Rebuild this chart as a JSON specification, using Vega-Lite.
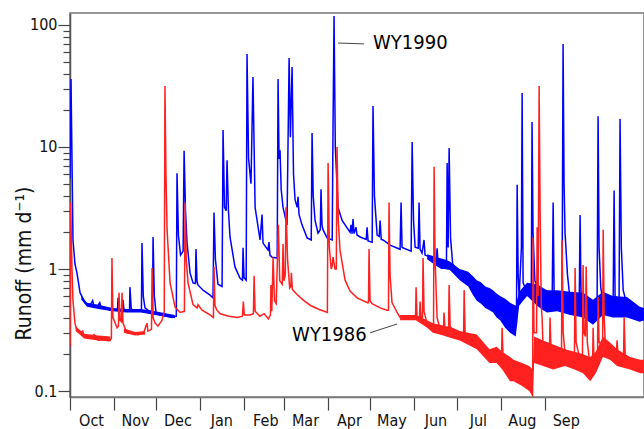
{
"$schema": "https://vega.github.io/schema/vega-lite/v6.json",
"width": 574, "height": 384,
"autosize": {"type": "none"},
"padding": {"left": 70, "top": 13, "right": 0, "bottom": 32},
"background": "white",
"config": {"view": {"stroke": "#777", "strokeWidth": 1.5}, "font": "DejaVu Sans Condensed, DejaVu Sans, sans-serif"},
"datasets": {
"wy1990": [
{"day":0,"q":5.5},{"day":0.7,"q":36},{"day":1.4,"q":8},{"day":2.1,"q":1.73},{"day":3.5,"q":1.1},{"day":4.9,"q":0.93},{"day":7.1,"q":0.64},{"day":10.6,"q":0.53},{"day":14.1,"q":0.5},{"day":16,"q":0.55},{"day":17,"q":0.49},{"day":19.1,"q":0.49},{"day":21,"q":0.53},{"day":22,"q":0.48},{"day":26.1,"q":0.48},{"day":28.2,"q":0.46},{"day":31,"q":0.46},{"day":33.5,"q":0.46},{"day":33.9,"q":0.58},{"day":34.6,"q":0.46},{"day":37,"q":0.45},{"day":37.4,"q":0.56},{"day":38.2,"q":0.45},{"day":42,"q":0.46},{"day":42.3,"q":0.71},{"day":43.2,"q":0.47},{"day":46,"q":0.45},{"day":49.4,"q":0.45},{"day":50.4,"q":0.46},{"day":50.8,"q":1.63},{"day":51.7,"q":0.6},{"day":52.9,"q":0.48},{"day":56,"q":0.45},{"day":58.2,"q":0.45},{"day":58.6,"q":1.83},{"day":59.5,"q":0.6},{"day":60.7,"q":0.44},{"day":63.5,"q":0.42},{"day":68,"q":0.41},{"day":72,"q":0.4},{"day":75,"q":0.41},{"day":75.5,"q":6.1},{"day":76.5,"q":1.9},{"day":78,"q":1.3},{"day":79.8,"q":1.4},{"day":80.5,"q":9.3},{"day":81.5,"q":3.0},{"day":82.6,"q":1.63},{"day":84.7,"q":0.93},{"day":86.8,"q":0.77},{"day":88.5,"q":0.76},{"day":88.9,"q":1.46},{"day":89.6,"q":0.8},{"day":90.3,"q":0.74},{"day":93.9,"q":0.67},{"day":98.8,"q":0.61},{"day":100.9,"q":0.58},{"day":101.6,"q":2.9},{"day":102.6,"q":1.2},{"day":103.7,"q":0.9},{"day":104.4,"q":0.75},{"day":107.3,"q":0.72},{"day":108,"q":13.8},{"day":109,"q":3.2},{"day":110.2,"q":3.0},{"day":110.8,"q":7.8},{"day":111.8,"q":3.0},{"day":112.9,"q":1.83},{"day":116.4,"q":1.04},{"day":120,"q":0.84},{"day":121.7,"q":0.81},{"day":122.1,"q":1.49},{"day":122.8,"q":0.85},{"day":124.3,"q":0.81},{"day":124.9,"q":57.8},{"day":126,"q":8},{"day":127.7,"q":5},{"day":129.1,"q":37.5},{"day":130.6,"q":3.2},{"day":134.1,"q":1.73},{"day":135.5,"q":2.8},{"day":136.2,"q":1.63},{"day":139.7,"q":1.43},{"day":140.4,"q":1.66},{"day":141.1,"q":1.3},{"day":142.6,"q":1.25},{"day":146.2,"q":1.23},{"day":146.8,"q":36.1},{"day":147.5,"q":8},{"day":148.2,"q":9.4},{"day":149,"q":4.5},{"day":150.3,"q":3.2},{"day":153.1,"q":2.3},{"day":154.6,"q":53.7},{"day":155.5,"q":12},{"day":156.7,"q":45.3},{"day":157.7,"q":6},{"day":158.8,"q":3.7},{"day":160.3,"q":3.2},{"day":160.9,"q":3.9},{"day":161.6,"q":2.8},{"day":163.7,"q":2.3},{"day":167.3,"q":1.8},{"day":170.2,"q":1.73},{"day":170.8,"q":13.0},{"day":171.6,"q":4},{"day":172.9,"q":2.5},{"day":175,"q":1.97},{"day":176.6,"q":2.1},{"day":177.1,"q":4.5},{"day":177.8,"q":2.3},{"day":178.5,"q":2.1},{"day":181.4,"q":1.8},{"day":185,"q":1.73},{"day":185.6,"q":15},{"day":186.3,"q":118.5},{"day":187.2,"q":10},{"day":189.1,"q":3.2},{"day":192,"q":2.5},{"day":195.5,"q":2.17},{"day":197.6,"q":2.0},{"day":198.3,"q":2.3},{"day":199,"q":1.95},{"day":199.7,"q":2.57},{"day":200.4,"q":1.95},{"day":201.8,"q":2.2},{"day":202.5,"q":1.9},{"day":204.7,"q":1.83},{"day":209,"q":1.75},{"day":209.6,"q":2.2},{"day":210.3,"q":1.7},{"day":213.2,"q":1.66},{"day":213.8,"q":21.7},{"day":214.8,"q":4},{"day":216.7,"q":1.9},{"day":218.2,"q":1.85},{"day":218.8,"q":2.5},{"day":219.6,"q":1.75},{"day":220.9,"q":1.73},{"day":225.8,"q":1.57},{"day":232.9,"q":1.45},{"day":233.6,"q":3.5},{"day":234.3,"q":1.5},{"day":240.7,"q":1.4},{"day":241.4,"q":11.0},{"day":242.4,"q":2.5},{"day":243.5,"q":1.51},{"day":245.7,"q":1.48},{"day":246.3,"q":3.5},{"day":247,"q":1.45},{"day":248.4,"q":1.35},{"day":249.8,"q":1.73},{"day":250.5,"q":1.3},{"day":254.1,"q":1.25},{"day":258.5,"q":1.15},{"day":259,"q":1.48},{"day":259.7,"q":1.12},{"day":264,"q":1.08},{"day":265.6,"q":1.05},{"day":266.1,"q":7.4},{"day":266.8,"q":1.5},{"day":267.5,"q":9.8},{"day":268.5,"q":1.8},{"day":270,"q":1.1},{"day":275,"q":0.9},{"day":281,"q":0.82},{"day":287,"q":0.68},{"day":293,"q":0.6},{"day":298.5,"q":0.55},{"day":303.5,"q":0.48},{"day":310.5,"q":0.4},{"day":315,"q":0.36},{"day":315.5,"q":4.9},{"day":316.2,"q":0.9},{"day":316.9,"q":0.59},{"day":318.5,"q":1.5},{"day":319,"q":27.7},{"day":319.7,"q":0.77},{"day":322.5,"q":0.64},{"day":325.5,"q":0.7},{"day":326,"q":16},{"day":326.7,"q":2.0},{"day":328,"q":0.8},{"day":333.8,"q":0.58},{"day":340.2,"q":0.55},{"day":340.9,"q":3.5},{"day":341.6,"q":0.6},{"day":347.2,"q":0.6},{"day":347.9,"q":69.9},{"day":348.6,"q":5},{"day":349.3,"q":1.97},{"day":351,"q":0.9},{"day":352.9,"q":0.55},{"day":359.3,"q":0.52},{"day":359.9,"q":2.77},{"day":360.6,"q":0.6},{"day":362,"q":0.5},{"day":369,"q":0.45},{"day":371.9,"q":0.5},{"day":372.6,"q":17.9},{"day":373.3,"q":1.5},{"day":374.5,"q":0.7},{"day":376.2,"q":0.54},{"day":383.2,"q":0.5},{"day":383.9,"q":4.4},{"day":384.6,"q":0.6},{"day":387.4,"q":0.55},{"day":388.1,"q":17},{"day":389,"q":1.5},{"day":390.3,"q":0.67},{"day":393.1,"q":0.5},{"day":402.3,"q":0.43},{"day":405,"q":0.43}
],
"wy1986": [
{"day":0,"q":0.23},{"day":0.4,"q":3.5},{"day":1.4,"q":1.0},{"day":2.1,"q":0.55},{"day":3.5,"q":0.36},{"day":5,"q":0.31},{"day":7.1,"q":0.3},{"day":9,"q":0.31},{"day":10,"q":0.28},{"day":14,"q":0.27},{"day":17,"q":0.29},{"day":20,"q":0.26},{"day":24,"q":0.27},{"day":28.2,"q":0.26},{"day":29.2,"q":0.27},{"day":29.6,"q":1.23},{"day":30.3,"q":0.4},{"day":33.2,"q":0.33},{"day":34.2,"q":0.34},{"day":34.6,"q":0.64},{"day":35.3,"q":0.38},{"day":36.3,"q":0.37},{"day":36.7,"q":0.64},{"day":37.4,"q":0.36},{"day":40.2,"q":0.3},{"day":44,"q":0.3},{"day":48,"q":0.29},{"day":52,"q":0.3},{"day":54.3,"q":0.36},{"day":55,"q":0.31},{"day":57.5,"q":0.32},{"day":57.9,"q":1.02},{"day":58.6,"q":0.4},{"day":60,"q":0.36},{"day":62.1,"q":0.34},{"day":64.9,"q":0.38},{"day":66.5,"q":0.45},{"day":67,"q":31.6},{"day":67.7,"q":6},{"day":68.5,"q":2.1},{"day":70.6,"q":0.77},{"day":74.1,"q":0.49},{"day":77.6,"q":0.44},{"day":80.7,"q":0.45},{"day":81.2,"q":3.5},{"day":82,"q":1.2},{"day":83.3,"q":0.77},{"day":86.8,"q":0.51},{"day":89.6,"q":0.48},{"day":90.3,"q":0.51},{"day":93.2,"q":0.46},{"day":98.8,"q":0.42},{"day":101.2,"q":0.4},{"day":101.6,"q":1.04},{"day":102.3,"q":0.5},{"day":103.7,"q":0.46},{"day":106,"q":0.43},{"day":112,"q":0.41},{"day":118,"q":0.4},{"day":121.7,"q":0.41},{"day":122.3,"q":0.54},{"day":123,"q":0.42},{"day":127,"q":0.42},{"day":129.4,"q":0.43},{"day":129.9,"q":0.88},{"day":130.6,"q":0.45},{"day":134,"q":0.41},{"day":137,"q":0.43},{"day":140,"q":0.39},{"day":141.4,"q":0.42},{"day":141.8,"q":0.74},{"day":142.4,"q":0.45},{"day":143.3,"q":1.25},{"day":144.3,"q":0.55},{"day":145.5,"q":0.52},{"day":147,"q":2.3},{"day":148,"q":0.8},{"day":149.8,"q":0.75},{"day":150.3,"q":1.6},{"day":151,"q":0.8},{"day":151.9,"q":0.9},{"day":152.4,"q":3.2},{"day":153.5,"q":1.2},{"day":155,"q":0.7},{"day":155.8,"q":0.72},{"day":156.2,"q":0.93},{"day":156.9,"q":0.68},{"day":160,"q":0.62},{"day":165,"q":0.55},{"day":170,"q":0.5},{"day":175,"q":0.47},{"day":181.6,"q":0.44},{"day":182.1,"q":7.4},{"day":183,"q":1.5},{"day":184.3,"q":1.0},{"day":184.9,"q":1.04},{"day":185.6,"q":1.25},{"day":187,"q":1.0},{"day":187.9,"q":1.0},{"day":188.4,"q":10},{"day":189.3,"q":2.5},{"day":190.5,"q":1.43},{"day":194.1,"q":0.81},{"day":197.6,"q":0.66},{"day":202.5,"q":0.58},{"day":210,"q":0.53},{"day":210.6,"q":0.53},{"day":211,"q":1.46},{"day":211.7,"q":0.55},{"day":213.1,"q":0.52},{"day":218.8,"q":0.48},{"day":223.7,"q":0.46},{"day":224.7,"q":0.46},{"day":225.1,"q":3.5},{"day":225.8,"q":0.9},{"day":227.2,"q":0.53},{"day":230.8,"q":0.44},{"day":232.9,"q":0.4},{"day":243.8,"q":0.4},{"day":244.2,"q":0.71},{"day":244.8,"q":0.41},{"day":246.6,"q":0.4},{"day":247,"q":0.54},{"day":247.6,"q":0.4},{"day":248.7,"q":0.4},{"day":249.1,"q":1.23},{"day":249.8,"q":0.45},{"day":251.9,"q":0.36},{"day":254.1,"q":0.33},{"day":256.5,"q":0.33},{"day":256.9,"q":6.9},{"day":257.6,"q":1.2},{"day":259,"q":0.4},{"day":261.1,"q":0.32},{"day":263.5,"q":0.32},{"day":263.9,"q":0.44},{"day":264.6,"q":0.32},{"day":267.1,"q":0.32},{"day":267.5,"q":0.74},{"day":268.2,"q":0.34},{"day":270.3,"q":0.3},{"day":273,"q":0.29},{"day":277.7,"q":0.28},{"day":278.1,"q":0.67},{"day":278.8,"q":0.29},{"day":285,"q":0.25},{"day":291.5,"q":0.22},{"day":296.4,"q":0.2},{"day":304.5,"q":0.19},{"day":304.9,"q":0.33},{"day":305.6,"q":0.18},{"day":310.5,"q":0.15},{"day":316,"q":0.14},{"day":322.5,"q":0.13},{"day":326,"q":0.12},{"day":326.4,"q":0.09},{"day":326.7,"q":1.8},{"day":327.4,"q":0.3},{"day":329.2,"q":0.3},{"day":329.6,"q":2.2},{"day":330.3,"q":0.6},{"day":331,"q":31.6},{"day":331.7,"q":3},{"day":332.5,"q":0.5},{"day":333.1,"q":0.4},{"day":333.8,"q":0.22},{"day":338.3,"q":0.21},{"day":338.7,"q":0.4},{"day":339.4,"q":0.22},{"day":343,"q":0.2},{"day":346.8,"q":0.2},{"day":347.2,"q":1.73},{"day":348,"q":0.3},{"day":349.3,"q":0.2},{"day":355.9,"q":0.19},{"day":356.4,"q":1.02},{"day":357.1,"q":0.25},{"day":359.9,"q":0.18},{"day":361.6,"q":0.2},{"day":362,"q":1.08},{"day":362.7,"q":0.3},{"day":363.7,"q":0.28},{"day":364.2,"q":1.05},{"day":365,"q":0.25},{"day":367,"q":0.16},{"day":368.7,"q":0.16},{"day":369.1,"q":0.33},{"day":369.8,"q":0.17},{"day":372.2,"q":0.2},{"day":372.6,"q":0.59},{"day":373.3,"q":0.25},{"day":375.8,"q":0.24},{"day":376.2,"q":2.1},{"day":376.9,"q":0.4},{"day":377.6,"q":0.26},{"day":383,"q":0.21},{"day":385.6,"q":0.21},{"day":386,"q":0.26},{"day":386.6,"q":0.2},{"day":390.6,"q":0.2},{"day":391,"q":0.4},{"day":391.7,"q":0.2},{"day":395.2,"q":0.17},{"day":402.3,"q":0.16},{"day":405,"q":0.16}
],
"band1990": [
{"day":8,"q":0.56,"q2":0.6},{"day":12,"q":0.49,"q2":0.53},{"day":20,"q":0.47,"q2":0.51},{"day":30,"q":0.45,"q2":0.48},{"day":40,"q":0.44,"q2":0.47},{"day":50,"q":0.44,"q2":0.47},{"day":60,"q":0.42,"q2":0.45},{"day":74,"q":0.395,"q2":0.42},{"day":74.5,"q":null,"q2":null},
{"day":252,"q":1.2,"q2":1.32},{"day":259,"q":1.05,"q2":1.25},{"day":262,"q":1.0,"q2":1.22},{"day":264,"q":1.0,"q2":1.2},{"day":268,"q":0.98,"q2":1.15},{"day":275,"q":0.81,"q2":1.0},{"day":281,"q":0.72,"q2":0.95},{"day":284,"q":0.62,"q2":0.88},{"day":287,"q":0.55,"q2":0.81},{"day":290,"q":0.52,"q2":0.78},{"day":293,"q":0.48,"q2":0.72},{"day":296,"q":0.46,"q2":0.7},{"day":298.5,"q":0.44,"q2":0.67},{"day":301,"q":0.4,"q2":0.63},{"day":303.5,"q":0.38,"q2":0.6},{"day":307,"q":0.33,"q2":0.57},{"day":310.5,"q":0.3,"q2":0.53},{"day":314.5,"q":0.28,"q2":0.5},{"day":316.9,"q":0.5,"q2":0.65},{"day":322.5,"q":0.6,"q2":0.77},{"day":329.6,"q":0.5,"q2":0.75},{"day":333.8,"q":0.46,"q2":0.7},{"day":336.6,"q":0.44,"q2":0.67},{"day":343.7,"q":0.45,"q2":0.67},{"day":352.9,"q":0.42,"q2":0.65},{"day":362,"q":0.4,"q2":0.64},{"day":369,"q":0.35,"q2":0.56},{"day":376,"q":0.42,"q2":0.65},{"day":383,"q":0.4,"q2":0.6},{"day":393,"q":0.4,"q2":0.59},{"day":402,"q":0.37,"q2":0.49},{"day":405,"q":0.38,"q2":0.48}
],
"band1986": [
{"day":4,"q":0.31,"q2":0.34},{"day":10,"q":0.27,"q2":0.295},{"day":20,"q":0.26,"q2":0.285},{"day":28.5,"q":0.255,"q2":0.28},{"day":29,"q":null,"q2":null},{"day":38,"q":0.3,"q2":0.325},{"day":46,"q":0.285,"q2":0.305},{"day":53,"q":0.29,"q2":0.31},{"day":53.5,"q":null,"q2":null},
{"day":232.9,"q":0.38,"q2":0.42},{"day":244,"q":0.38,"q2":0.42},{"day":252,"q":0.33,"q2":0.38},{"day":256,"q":0.3,"q2":0.36},{"day":261,"q":0.29,"q2":0.35},{"day":270,"q":0.27,"q2":0.33},{"day":275,"q":0.26,"q2":0.31},{"day":287,"q":0.22,"q2":0.29},{"day":296,"q":0.17,"q2":0.22},{"day":301,"q":0.17,"q2":0.23},{"day":305,"q":0.15,"q2":0.21},{"day":310.5,"q":0.12,"q2":0.19},{"day":313,"q":0.12,"q2":0.18},{"day":319,"q":0.11,"q2":0.17},{"day":324,"q":0.1,"q2":0.16},{"day":326.4,"q":0.09,"q2":0.15},{"day":327.5,"q":0.17,"q2":0.28},{"day":333.8,"q":0.16,"q2":0.26},{"day":340.9,"q":0.15,"q2":0.24},{"day":349.3,"q":0.16,"q2":0.22},{"day":356,"q":0.15,"q2":0.21},{"day":362,"q":0.14,"q2":0.2},{"day":367,"q":0.12,"q2":0.19},{"day":371,"q":0.14,"q2":0.21},{"day":376,"q":0.19,"q2":0.28},{"day":381,"q":0.18,"q2":0.25},{"day":386,"q":0.16,"q2":0.22},{"day":395.2,"q":0.15,"q2":0.19},{"day":402.3,"q":0.14,"q2":0.18},{"day":405,"q":0.14,"q2":0.18}
],
"leaders": [
{"day":189.1,"day2":207.4,"q":71.2,"q2":70},
{"day":211.7,"day2":230.8,"q":0.30,"q2":0.354}
],
"labels": [
{"day":213.8,"q":71.2,"label":"WY1990"},
{"day":156.7,"q":0.288,"label":"WY1986"}
]
},
"encoding": {
"x": {"field": "day", "type": "quantitative",
 "scale": {"domain": [0, 405], "nice": false, "zero": false},
 "axis": {"values": [0,31,61,92,123,151,182,212,243,273,304,335],
  "labelExpr": "['Oct','Nov','Dec','Jan','Feb','Mar','Apr','May','Jun','Jul','Aug','Sep'][indexof([0,31,61,92,123,151,182,212,243,273,304,335], datum.value)]",
  "labelOffset": 21, "labelFlush": false, "labelOverlap": false, "tickSize": 13, "tickColor": "#444", "tickWidth": 1.2,
  "domainColor": "#777", "domainWidth": 1.5, "labelFontSize": 16, "labelColor": "#111", "labelPadding": 2, "grid": false, "title": null}},
"y": {"field": "q", "type": "quantitative",
 "scale": {"type": "log", "domain": [0.0893, 125.4], "nice": false, "zero": false},
 "axis": {"values": [0.1,0.2,0.3,0.4,0.5,0.6,0.7,0.8,0.9,1,2,3,4,5,6,7,8,9,10,20,30,40,50,60,70,80,90,100],
  "labelExpr": "datum.value == 0.1 ? '0.1' : datum.value == 1 ? '1' : datum.value == 10 ? '10' : datum.value == 100 ? '100' : ''",
  "tickSize": {"condition": {"test": "datum.value == 0.1 || datum.value == 1 || datum.value == 10 || datum.value == 100", "value": 12}, "value": 7},
  "tickColor": "#444", "tickWidth": 1.2, "domainColor": "#555", "domainWidth": 1.5,
  "labelFontSize": 16, "labelColor": "#111", "labelPadding": 1, "labelFlush": false, "labelOverlap": false, "grid": false,
  "title": "Runoff (mm d⁻¹)", "titleFontSize": 21, "titleFontWeight": "normal", "titleColor": "#111",
  "titleX": -36, "titleY": 250, "titleBaseline": "bottom"}}
},
"layer": [
{"data": {"name": "band1990"}, "mark": {"type": "area", "color": "#0000ff", "opacity": 1, "clip": true}, "encoding": {"y2": {"field": "q2"}}},
{"data": {"name": "wy1990"}, "mark": {"type": "line", "color": "#0000ff", "strokeWidth": 1.5, "clip": true}, "encoding": {}},
{"data": {"name": "band1986"}, "mark": {"type": "area", "color": "#ff2020", "opacity": 1, "clip": true}, "encoding": {"y2": {"field": "q2"}}},
{"data": {"name": "wy1986"}, "mark": {"type": "line", "color": "#ff2020", "strokeWidth": 1.5, "clip": true}, "encoding": {}},
{"data": {"name": "leaders"}, "mark": {"type": "rule", "color": "#444", "strokeWidth": 1}, "encoding": {"x2": {"field": "day2"}, "y2": {"field": "q2"}}},
{"data": {"name": "labels"}, "mark": {"type": "text", "align": "left", "baseline": "middle", "fontSize": 20, "color": "#000"}, "encoding": {"text": {"field": "label"}}}
]
}
